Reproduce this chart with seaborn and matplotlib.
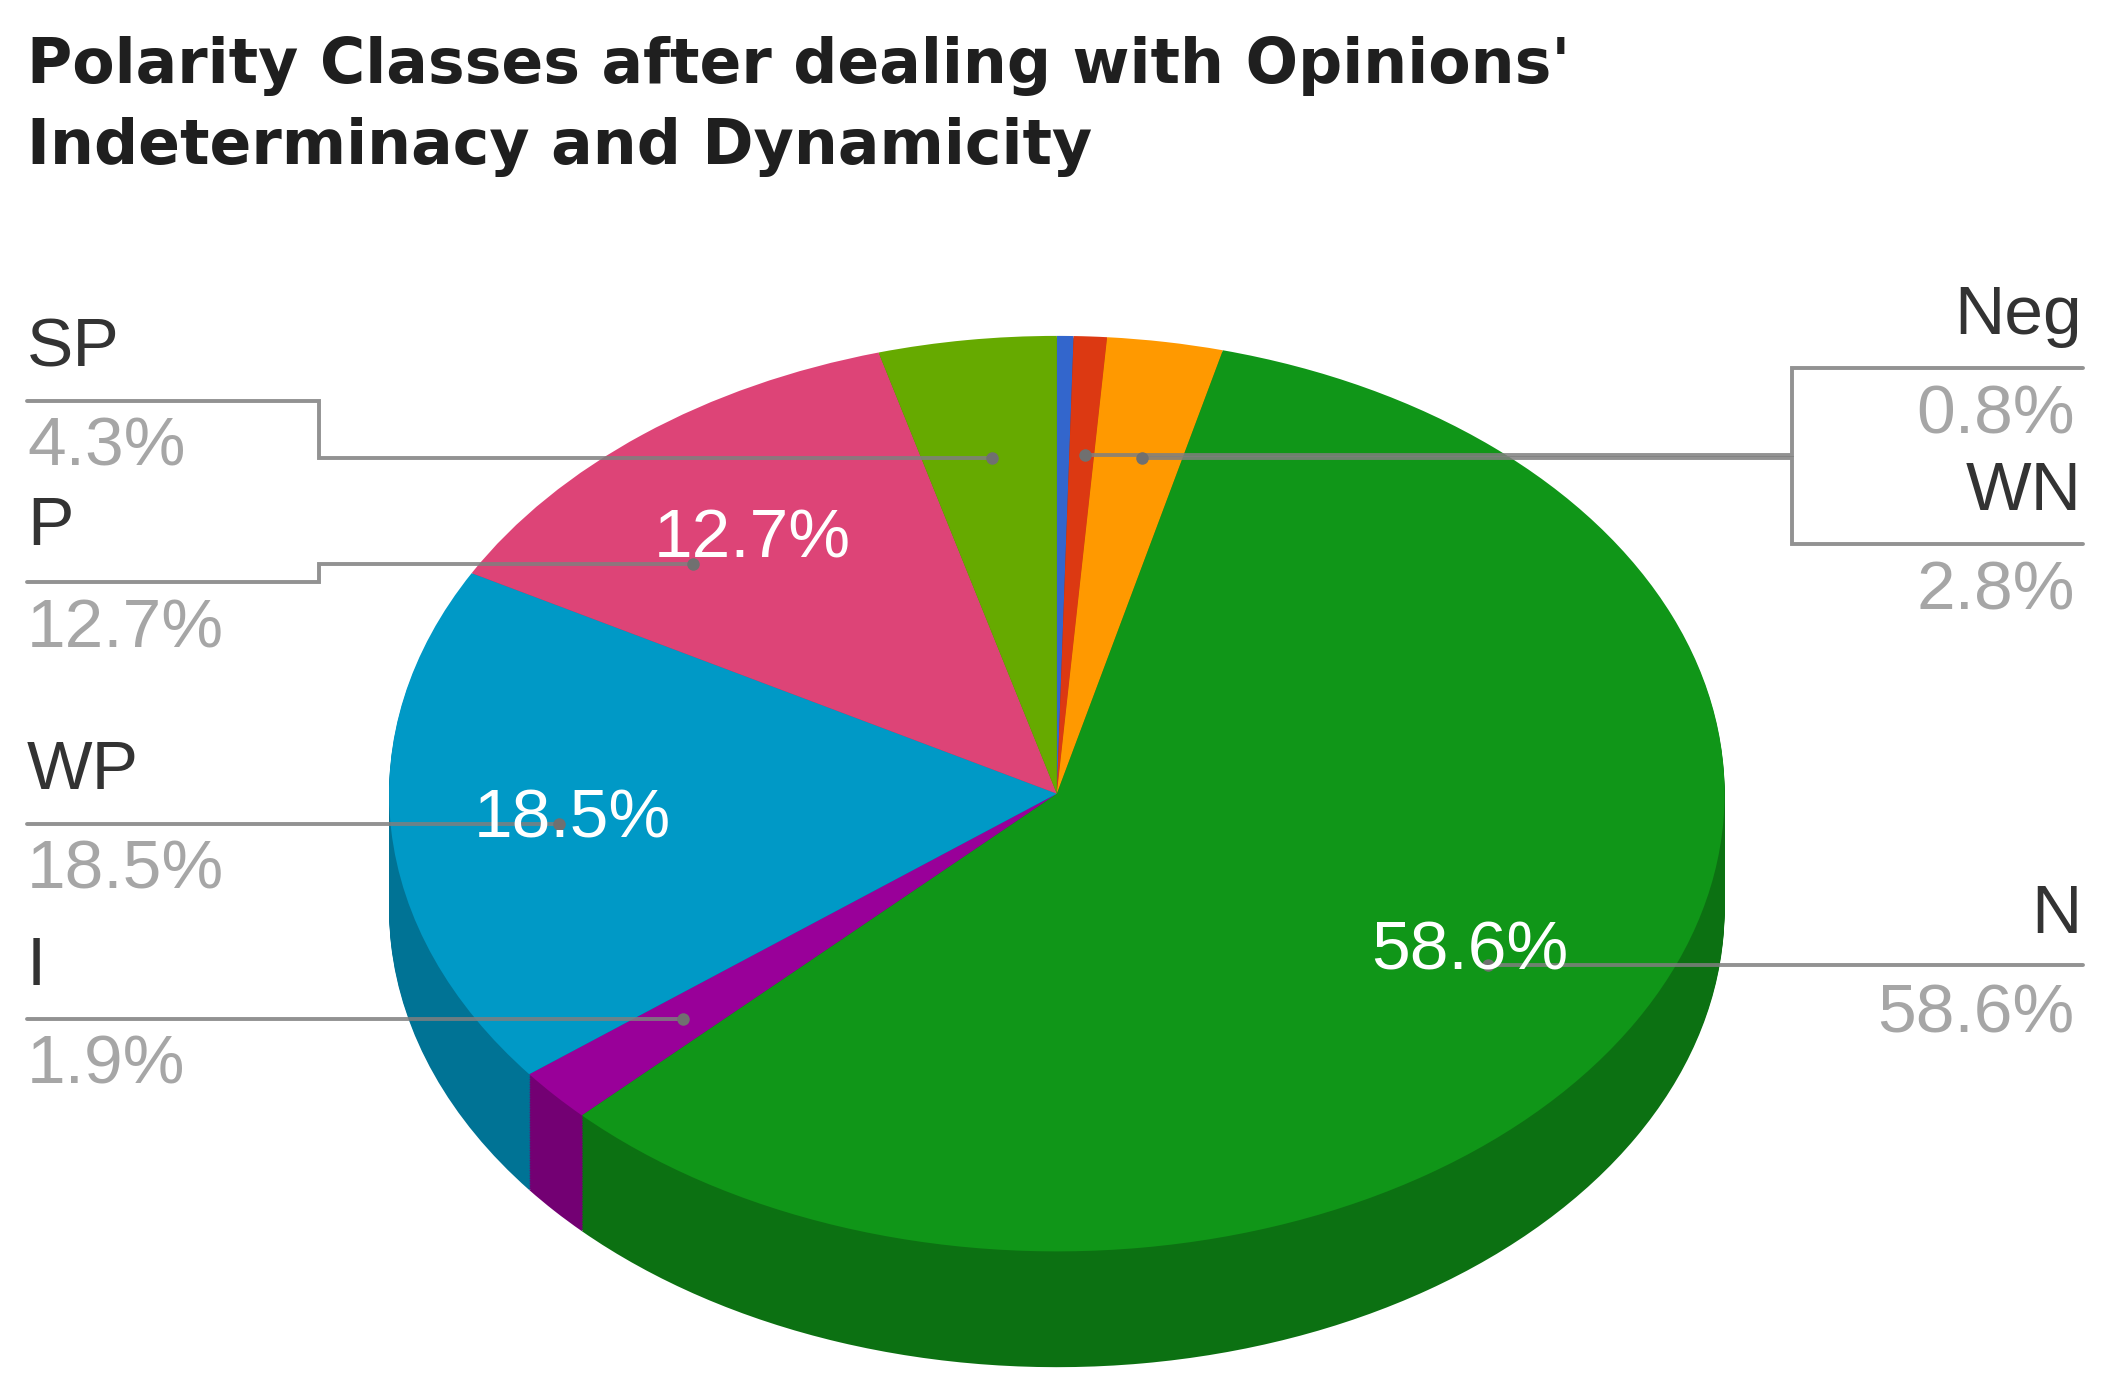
#%% IMPORTS
from matplotlib import pyplot as plt
import numpy as np
import seaborn as sns

#%% DATA
title_lines = ["Polarity Classes after dealing with Opinions'", "Indeterminacy and Dynamicity"]
categories = ["SN", "Neg", "WN", "N", "I", "WP", "P", "SP"]
values = [0.4, 0.8, 2.8, 58.6, 1.9, 18.5, 12.7, 4.3]
slice_colors = ["#3366cc", "#dc3912", "#ff9900", "#109618", "#990099", "#0099c6", "#dd4477", "#66aa00"]
inside_labels = ["P", "WP", "N"]

#%% CONFIGURATION
W, H = 2111, 1391
S = W / 1568
PIE_X, PIE_Y = 785.0 * S, 589.5 * S  # apex of the top face #
RX, RY = 496.0 * S, 340.0 * S
DEPTH = 86.0 * S
LAYERS = 70

sns.set_theme(style="white")
plt.rcParams["font.family"] = ["Liberation Sans", "DejaVu Sans"]

# label layout: name baseline, rule y, value baseline #
left_layout = {"SP": (272, 298, 346), "P": (405, 432, 481), "WP": (586, 612, 660), "I": (732, 757, 805)}
right_layout = {"Neg": (248, 273, 322), "WN": (379, 404, 453), "N": (693, 717, 767)}

# leader paths from rule end to the dot #
leaders = {
    "SP": [(20, 298), (237, 298), (237, 340), (737, 340)],
    "P": [(20, 432), (237, 432), (237, 419), (515, 419)],
    "WP": [(20, 612), (415, 612)],
    "I": [(20, 757), (507, 757)],
    "Neg": [(1547, 273), (1331, 273), (1331, 338), (806, 338)],
    "WN": [(1547, 404), (1331, 404), (1331, 340), (848, 340)],
    "N": [(1547, 717), (1105, 717)],
}
inside_pos = {"P": (559, 401), "WP": (425, 609), "N": (1092, 707)}

#%% MAIN CODE
palette = sns.color_palette(slice_colors)
dark_palette = [tuple(c * 0.75 for c in col) for col in palette]

fig = plt.figure(figsize=(W / 100, H / 100), dpi=100, facecolor="white")

# pie axes: x -1..1 spans the ellipse width, y is scaled by RY #
top_px = PIE_Y - 1.02 * RY
bottom_px = PIE_Y + RY + DEPTH + 0.02 * RY
ax = fig.add_axes([(PIE_X - RX) / W, 1 - bottom_px / H, 2 * RX / W, (bottom_px - top_px) / H])
for k in range(LAYERS, -1, -1):
    colors = palette if k == 0 else dark_palette
    ax.pie(values, colors=colors, startangle=90, counterclock=False, radius=1,
           center=(0, -DEPTH / RY * k / LAYERS), wedgeprops={"linewidth": 0}, normalize=True)
ax.set_aspect("auto")
ax.set_xlim(-1, 1)
ax.set_ylim(-(bottom_px - PIE_Y) / RY, (PIE_Y - top_px) / RY)
ax.axis("off")

# overlay axes in pixel coordinates for text and leaders #
ov = fig.add_axes([0, 0, 1, 1], facecolor="none")
ov.set_xlim(0, W)
ov.set_ylim(H, 0)
ov.axis("off")

for i, line in enumerate(title_lines):
    ov.text(20 * S, (62 + 60 * i) * S, line, fontsize=44.5, fontweight="bold", family="DejaVu Sans",
            color="#1f1f1f", va="baseline")

for name, path in leaders.items():
    xs, ys = zip(*path)
    ov.plot(np.array(xs) * S, np.array(ys) * S, color="#7f7f7f", alpha=0.85, lw=2.8, solid_joinstyle="miter")
    ov.plot(xs[-1] * S, ys[-1] * S, "o", color="#707070", ms=9, mew=0)

lookup = dict(zip(categories, values))
for name, (y0, _, y1) in left_layout.items():
    ov.text(20 * S, y0 * S, name, fontsize=50, color="#333333", va="baseline")
    ov.text(20 * S, y1 * S, f"{lookup[name]}%", fontsize=50, color="#a6a6a6", va="baseline")
for name, (y0, _, y1) in right_layout.items():
    ov.text(1546 * S, y0 * S, name, fontsize=50, color="#333333", va="baseline", ha="right")
    ov.text(1541 * S, y1 * S, f"{lookup[name]}%", fontsize=50, color="#a6a6a6", va="baseline", ha="right")
for name in inside_labels:
    x, y = inside_pos[name]
    ov.text(x * S, y * S, f"{lookup[name]}%", fontsize=50, color="white", ha="center", va="center")

fig.savefig("out.png", dpi=100, facecolor="white")
